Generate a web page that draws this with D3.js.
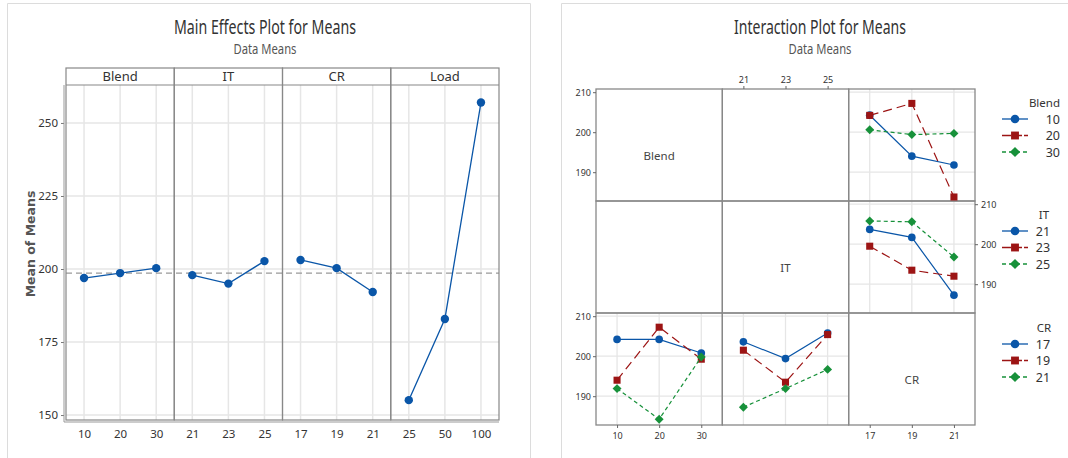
<!DOCTYPE html>
<html>
<head>
<meta charset="utf-8">
<script src="https://cdn.jsdelivr.net/npm/d3@7"></script>
<style>
  body { margin: 0; background: #fff; }
  svg { display: block; }
  text { font-family: "Noto Sans", "Liberation Sans", sans-serif; fill: #333; }
</style>
</head>
<body>
<svg id="chart" width="1068" height="458"></svg>
<script>
// main effects data
const factors = ["Blend", "IT", "CR", "Load"];
const levels = [["10", "20", "30"], ["21", "23", "25"], ["17", "19", "21"], ["25", "50", "100"]];
const mainMeans = [
    [196.9, 198.6, 200.3],
    [197.9, 195.0, 202.7],
    [203.1, 200.3, 192.1],
    [155.1, 182.9, 257.0]
];
const grandMean = 198.6;
const mainTicks = [150, 175, 200, 225, 250];

// interaction data (rows = legend factor, columns = x factor)
const ixFactors = ["Blend", "IT", "CR"];
const ixLevels = [["10", "20", "30"], ["21", "23", "25"], ["17", "19", "21"]];
const blendByCR = [[204.25, 194.0, 191.8], [204.2, 207.2, 183.8], [200.6, 199.4, 199.7]];
const itByCR = [[203.7, 201.7, 187.25], [199.5, 193.5, 192.0], [205.8, 205.6, 196.8]];
const crByBlend = [[204.2, 204.2, 200.8], [194.0, 207.25, 199.25], [191.9, 184.25, 199.8]];
const crByIT = [[203.6, 199.4, 205.8], [201.5, 193.5, 205.4], [187.25, 191.9, 196.7]];
const ixTicks = [190, 200, 210];

const blue = "#0a56a8", red = "#9c1414", green = "#17913a";
const seriesStyle = [
    { color: blue, dash: null, shape: d3.symbolCircle, size: 46, rot: 0 },
    { color: red, dash: "9,5", shape: d3.symbolSquare, size: 50, rot: 0 },
    { color: green, dash: "4,3", shape: d3.symbolSquare, size: 40, rot: 45 }
];

const svg = d3.select("#chart");

// outer light frames
svg.append("path").attr("d", "M7.5,458V3.5H530.5V458").attr("fill", "none").attr("stroke", "#dcdcdc");
svg.append("path").attr("d", "M561.5,458V3.5H1068").attr("fill", "none").attr("stroke", "#dcdcdc");

function title(x, main, mainLen, subLen) {
    svg.append("text").attr("x", x).attr("y", 34).attr("text-anchor", "middle")
        .attr("textLength", mainLen).attr("lengthAdjust", "spacingAndGlyphs")
        .style("font-size", "19px").style("fill", "#333").text(main);
    svg.append("text").attr("x", x).attr("y", 54).attr("text-anchor", "middle")
        .attr("textLength", subLen).attr("lengthAdjust", "spacingAndGlyphs")
        .style("font-size", "14px").style("fill", "#555").text("Data Means");
}

// ---------- Main effects plot ----------
const ml = 66, mr = 499, mTop = 68, stripB = 85, mBot = 420;
const pw = (mr - ml) / factors.length;

title(265, "Main Effects Plot for Means", 182, 63);

const yMain = d3.scaleLinear().domain([148.3, 263]).range([mBot, stripB]);

const gm = svg.append("g");
// horizontal grid
gm.selectAll("line.hg").data(mainTicks).enter().append("line")
    .attr("x1", ml).attr("x2", mr)
    .attr("y1", d => yMain(d)).attr("y2", d => yMain(d))
    .attr("stroke", "#e6e6e6").attr("stroke-width", 1.5);

factors.forEach((f, i) => {
    const x0 = ml + i * pw;
    const x = d3.scalePoint().domain(levels[i]).range([x0, x0 + pw]).padding(0.5);
    gm.selectAll(null).data(levels[i]).enter().append("line")
        .attr("x1", d => x(d)).attr("x2", d => x(d))
        .attr("y1", stripB).attr("y2", mBot)
        .attr("stroke", "#e6e6e6").attr("stroke-width", 1.5);

    gm.append("g").attr("transform", `translate(0,${mBot})`)
        .call(d3.axisBottom(x).tickSize(0).tickPadding(10))
        .call(g => g.select(".domain").remove())
        .selectAll("text").style("font-size", "11.5px").style("fill", "#333")
        .style("font-family", "'Noto Sans', sans-serif");

    gm.append("text").attr("x", x0 + pw / 2).attr("y", 81).attr("text-anchor", "middle")
        .style("font-size", "13px").style("fill", "#333").text(f);
});

// mean reference line
gm.append("line").attr("x1", ml).attr("x2", mr)
    .attr("y1", yMain(grandMean)).attr("y2", yMain(grandMean))
    .attr("stroke", "#999").attr("stroke-width", 1.3).attr("stroke-dasharray", "6,4");

// panel frames
factors.forEach((f, i) => {
    const x0 = ml + i * pw;
    gm.append("rect").attr("x", x0).attr("y", mTop).attr("width", pw).attr("height", mBot - mTop)
        .attr("fill", "none").attr("stroke", "#888").attr("stroke-width", 1.2);
    gm.append("line").attr("x1", x0).attr("x2", x0 + pw).attr("y1", stripB).attr("y2", stripB)
        .attr("stroke", "#888").attr("stroke-width", 1.2);
});

// lines and points
factors.forEach((f, i) => {
    const x0 = ml + i * pw;
    const x = d3.scalePoint().domain(levels[i]).range([x0, x0 + pw]).padding(0.5);
    const pts = levels[i].map((l, j) => [x(l), yMain(mainMeans[i][j])]);
    gm.append("path").attr("d", d3.line()(pts))
        .attr("fill", "none").attr("stroke", blue).attr("stroke-width", 1.3);
    gm.selectAll(null).data(pts).enter().append("circle")
        .attr("cx", d => d[0]).attr("cy", d => d[1]).attr("r", 4.2).attr("fill", blue);
});

// y axis
gm.append("g").attr("transform", `translate(${ml - 2},0)`)
    .call(d3.axisLeft(yMain).tickValues(mainTicks).tickSize(3).tickPadding(3))
    .call(g => g.select(".domain").remove())
    .call(g => g.selectAll("line").attr("stroke", "#777"))
    .selectAll("text").style("font-size", "11.5px").style("fill", "#333")
    .style("font-family", "'Noto Sans', sans-serif");
gm.append("line").attr("x1", ml - 2).attr("x2", ml - 2).attr("y1", stripB).attr("y2", mBot + 2)
    .attr("stroke", "#999");
gm.append("line").attr("x1", ml - 2).attr("x2", mr).attr("y1", mBot + 2).attr("y2", mBot + 2)
    .attr("stroke", "#999");

svg.append("text").attr("transform", "translate(35,244) rotate(-90)").attr("text-anchor", "middle")
    .style("font-family", "'DejaVu Sans', sans-serif").style("font-weight", "bold")
    .style("font-size", "12.5px").style("fill", "#555").text("Mean of Means");

// ---------- Interaction plot ----------
const il = 596, ir = 975, it = 89, ib = 425;
const cw = (ir - il) / 3, ch = (ib - it) / 3;

title(820, "Interaction Plot for Means", 172, 63);

const gi = svg.append("g");
const cells = [
    { row: 0, col: 2, data: blendByCR },
    { row: 1, col: 2, data: itByCR },
    { row: 2, col: 0, data: crByBlend },
    { row: 2, col: 1, data: crByIT }
];

function cellX(col) {
    const x0 = il + col * cw;
    return d3.scalePoint().domain(ixLevels[col]).range([x0, x0 + cw]).padding(0.5);
}
function cellY(row) {
    const y0 = it + row * ch;
    return d3.scaleLinear().domain([182.8, 210.8]).range([y0 + ch, y0]);
}

// grids for data cells
cells.forEach(c => {
    const x = cellX(c.col), y = cellY(c.row);
    const y0 = it + c.row * ch, x0 = il + c.col * cw;
    gi.selectAll(null).data(ixTicks).enter().append("line")
        .attr("x1", x0).attr("x2", x0 + cw).attr("y1", d => y(d)).attr("y2", d => y(d))
        .attr("stroke", "#e6e6e6").attr("stroke-width", 1.3);
    gi.selectAll(null).data(ixLevels[c.col]).enter().append("line")
        .attr("x1", d => x(d)).attr("x2", d => x(d)).attr("y1", y0).attr("y2", y0 + ch)
        .attr("stroke", "#e6e6e6").attr("stroke-width", 1.3);
});

// cell frames
for (let r = 0; r < 3; r++) {
    for (let c = 0; c < 3; c++) {
        gi.append("rect").attr("x", il + c * cw).attr("y", it + r * ch).attr("width", cw).attr("height", ch)
            .attr("fill", "none").attr("stroke", "#888").attr("stroke-width", 1.3);
    }
}

// diagonal labels
ixFactors.forEach((f, i) => {
    gi.append("text").attr("x", il + i * cw + cw / 2).attr("y", it + i * ch + ch / 2 + 15)
        .attr("text-anchor", "middle").style("font-size", "11.5px").style("fill", "#444").text(f);
});

function marker(sel, st, extra) {
    return sel.append("path")
        .attr("d", d3.symbol().type(st.shape).size(st.size + (extra || 0))).attr("fill", st.color);
}

// series
cells.forEach(c => {
    const x = cellX(c.col), y = cellY(c.row);
    c.data.forEach((vals, s) => {
        const st = seriesStyle[s];
        const pts = ixLevels[c.col].map((l, j) => [x(l), y(vals[j])]);
        gi.append("path").attr("d", d3.line()(pts)).attr("fill", "none")
            .attr("stroke", st.color).attr("stroke-width", 1.2)
            .attr("stroke-dasharray", st.dash);
        gi.selectAll(null).data(pts).enter().append("path")
            .attr("transform", d => `translate(${d[0]},${d[1]}) rotate(${st.rot})`)
            .attr("d", d3.symbol().type(st.shape).size(st.size)).attr("fill", st.color);
    });
});

// axes
function styleAxis(g) {
    g.select(".domain").remove();
    g.selectAll("line").attr("stroke", "#666");
    g.selectAll("text").style("font-size", "9px").style("fill", "#333")
        .style("font-family", "'Noto Sans', sans-serif");
}
gi.append("g").attr("transform", `translate(0,${ib})`)
    .call(d3.axisBottom(cellX(0)).tickSize(3).tickPadding(5)).call(styleAxis);
gi.append("g").attr("transform", `translate(0,${ib})`)
    .call(d3.axisBottom(cellX(2)).tickSize(3).tickPadding(5)).call(styleAxis);
gi.append("g").attr("transform", `translate(0,${it})`)
    .call(d3.axisTop(cellX(1)).tickSize(3).tickPadding(3)).call(styleAxis);
gi.append("g").attr("transform", `translate(${il},0)`)
    .call(d3.axisLeft(cellY(0)).tickValues(ixTicks).tickSize(3).tickPadding(2)).call(styleAxis);
gi.append("g").attr("transform", `translate(${ir},0)`)
    .call(d3.axisRight(cellY(1)).tickValues(ixTicks).tickSize(3).tickPadding(3)).call(styleAxis);
gi.append("g").attr("transform", `translate(${il},0)`)
    .call(d3.axisLeft(cellY(2)).tickValues(ixTicks).tickSize(3).tickPadding(2)).call(styleAxis);

// legends
const legendPos = [{ y: 103 }, { y: 215 }, { y: 328 }];
ixFactors.forEach((f, i) => {
    const lg = gi.append("g").attr("transform", `translate(0,${legendPos[i].y})`);
    lg.append("text").attr("x", i === 0 ? 1060 : 1044).attr("y", 4)
        .attr("text-anchor", i === 0 ? "end" : "middle")
        .style("font-size", "11.5px").style("fill", "#333").text(f);
    ixLevels[i].forEach((lv, s) => {
        const st = seriesStyle[s];
        const yy = 16 + s * 16.5;
        lg.append("line").attr("x1", 1002).attr("x2", 1028).attr("y1", yy).attr("y2", yy)
            .attr("stroke", st.color).attr("stroke-width", 1.3)
            .attr("stroke-dasharray", s === 0 ? null : (s === 1 ? "9,2" : "4,3"));
        lg.append("path").attr("transform", `translate(1015,${yy}) rotate(${st.rot})`)
            .attr("d", d3.symbol().type(st.shape).size(st.size + 12)).attr("fill", st.color);
        lg.append("text").attr("x", i === 0 ? 1060 : 1043).attr("y", yy + 4.5)
            .attr("text-anchor", i === 0 ? "end" : "middle")
            .style("font-size", "12.5px").style("fill", "#333").text(lv);
    });
});
</script>
</body>
</html>
